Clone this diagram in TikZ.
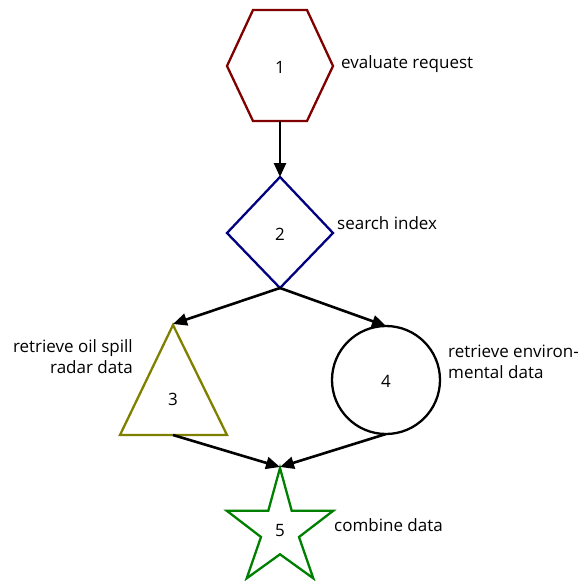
\documentclass[tikz,border=0pt]{standalone}
\usepackage{fontspec}
\setmainfont{Open Sans}
\usetikzlibrary{arrows.meta}
\definecolor{hexred}{RGB}{128,0,0}
\definecolor{dianavy}{RGB}{0,0,128}
\definecolor{triolive}{RGB}{128,128,0}
\definecolor{stargreen}{RGB}{0,128,0}
\begin{document}
\begin{tikzpicture}[x=1pt,y=-1pt,
  outline/.style={line width=2.3pt,line join=miter},
  flow/.style={line width=2.6pt,-{Triangle[length=14pt,width=12pt]}},
  txt/.style={font=\fontsize{17}{21}\selectfont,inner sep=0pt},
  num/.style={font=\fontsize{17}{21}\selectfont,inner sep=0pt,anchor=base}]
\useasboundingbox (0,0) rectangle (582,581);
% shape outlines
\draw[outline,hexred] (253,10) -- (307,10) -- (333,66) -- (307,121) -- (253,121) -- (227,66) -- cycle;
\draw[outline,dianavy] (280,177) -- (333,233) -- (280,288) -- (227,233) -- cycle;
\draw[outline,triolive] (173,325) -- (227,435) -- (120,435) -- cycle;
\draw[outline,black] (386,380) circle (54);
\draw[outline,stargreen] (280,468) -- (291.7,510.7) -- (333.3,510.7) -- (299,537) -- (313.3,578.3)
  -- (280,554.3) -- (246.7,578.3) -- (261,537) -- (226.7,510.7) -- (268.3,510.7) -- cycle;
% connection points on the outlines
\coordinate (h1s) at (280,121);
\coordinate (d2n) at (280,177);
\coordinate (d2s) at (280,288);
\coordinate (t3n) at (173,324);
\coordinate (t3s) at (173,435);
\coordinate (c4n) at (386,326);
\coordinate (c4s) at (386,434);
\coordinate (s5n) at (280,467);
% numbers
\node[num] (n1) at (280,73) {1};
\node[num] (n2) at (280,240) {2};
\node[num] (n3) at (173,405) {3};
\node[num] (n4) at (386,387) {4};
\node[num] (n5) at (280,536) {5};
% step descriptions
\node[txt,anchor=base west] (l1) at (341,68) {evaluate request};
\node[txt,anchor=base west] (l2) at (337,229) {search index};
\node[txt,anchor=base east,align=right] (l3) at (133,373) {retrieve oil spill\\radar data};
\node[txt,anchor=base west,align=left] (l4) at (448,378) {retrieve environ-\\mental data};
\node[txt,anchor=base west] (l5) at (334,531) {combine data};
% flow
\draw[flow] (h1s) -- (d2n);
\draw[flow] (d2s) -- (t3n);
\draw[flow] (d2s) -- (c4n);
\draw[flow] (t3s) -- (s5n);
\draw[flow] (c4s) -- (s5n);
\end{tikzpicture}
\end{document}
